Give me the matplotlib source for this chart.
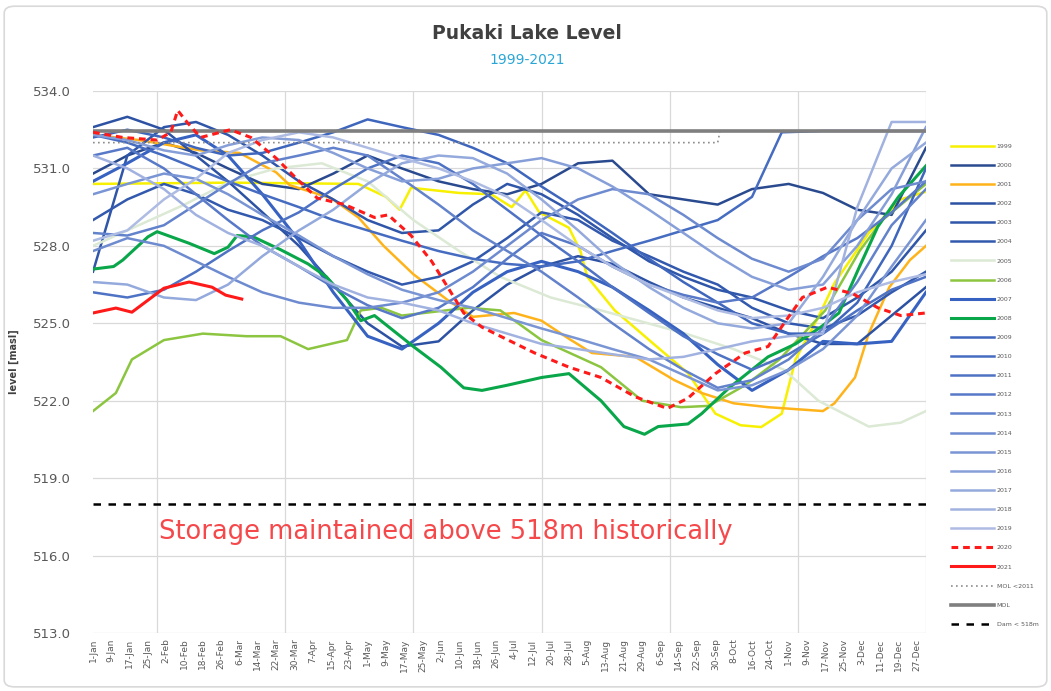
import matplotlib.pyplot as plt
from matplotlib.patches import FancyBboxPatch

# day-of-year grid used for most years
days = [0, 15, 31, 45, 59, 74, 90, 105, 120, 135, 151, 166, 181, 196, 212,
        227, 243, 258, 273, 288, 304, 319, 334, 349, 364]

y2000 = [530.8, 531.5, 532.0, 531.6, 531.0, 530.4, 530.2, 530.8, 531.5, 531.0, 530.5, 530.2, 530.0,
         530.4, 531.2, 531.3, 530.0, 529.8, 529.6, 530.2, 530.4, 530.05, 529.4, 529.2, 531.8]
y2002 = [532.6, 533.0, 532.5, 531.5, 530.5, 529.3, 528.0, 526.5, 525.0, 524.1, 524.3, 525.5, 526.5,
         527.2, 527.6, 527.3, 526.6, 526.0, 525.6, 525.2, 524.6, 524.2, 524.2, 525.3, 526.4]
y2003 = [527.0, 531.5, 532.6, 532.8, 532.3, 531.5, 530.5, 529.8, 529.0, 528.5, 528.6, 529.6, 530.4,
         530.0, 529.2, 528.3, 527.4, 526.8, 526.3, 526.0, 525.5, 525.2, 526.0, 527.0, 528.6]
y2004 = [529.0, 529.8, 530.4, 530.0, 529.4, 529.0, 528.3, 527.6, 527.0, 526.5, 526.8, 527.4, 528.3,
         529.3, 529.0, 528.2, 527.6, 527.0, 526.5, 525.6, 525.0, 524.8, 525.3, 526.2, 527.0]
y2007 = [530.5, 531.2, 532.0, 532.3, 531.5, 530.0, 528.2, 526.2, 524.5, 524.0, 525.0, 526.2, 527.0,
         527.4, 527.0, 526.4, 525.5, 524.6, 523.4, 522.4, 523.2, 524.3, 524.2, 524.3, 526.2]
y2009 = [532.2, 532.5, 532.2, 531.8, 531.5, 531.6, 532.0, 532.4, 532.9, 532.6, 532.3, 531.8, 531.2,
         530.3, 529.4, 528.5, 527.5, 526.6, 525.8, 525.0, 524.6, 524.6, 525.8, 528.0, 531.0]
y2011 = [526.2, 526.0, 526.3, 527.0, 527.8, 528.6, 529.3, 530.2, 531.0, 531.5, 531.2, 530.4, 529.4,
         528.4, 527.4, 526.4, 525.4, 524.5, 523.8, 523.2, 523.8, 524.6, 525.5, 526.3, 526.8]
y2012 = [531.5, 531.8, 531.0, 530.0, 529.0, 528.0, 527.2, 526.4, 525.7, 525.2, 525.6, 526.4, 527.5,
         528.5, 528.0, 527.2, 526.5, 526.1, 525.8, 526.0, 526.8, 527.6, 528.3, 529.3, 530.5]
y2013 = [528.5, 528.4, 528.8, 529.6, 530.4, 531.2, 531.5, 531.8, 531.5, 530.6, 529.6, 528.6, 527.8,
         527.0, 526.0, 525.0, 524.0, 523.2, 522.5, 522.8, 523.6, 524.8, 526.6, 528.8, 530.2]
y2014 = [527.8, 528.3, 528.0, 527.4, 526.8, 526.2, 525.8, 525.6, 525.6, 525.8, 526.2, 527.0, 528.0,
         529.0, 529.8, 530.2, 530.0, 529.2, 528.3, 527.5, 527.0, 527.5, 529.0, 530.2, 530.5]
y2015 = [530.0, 530.4, 530.8, 530.6, 530.0, 529.2, 528.4, 527.6, 526.9, 526.3, 525.9, 525.6, 525.2,
         524.8, 524.4, 524.0, 523.6, 523.0, 522.4, 522.6, 523.2, 524.0, 525.3, 527.2, 529.0]
y2016 = [532.3, 532.1, 531.7, 531.5, 531.9, 532.2, 532.1, 531.6, 531.0, 530.5, 530.6, 531.0, 531.2,
         531.4, 531.0, 530.3, 529.4, 528.5, 527.6, 526.8, 526.3, 526.5, 528.0, 530.0, 532.6]
y2017 = [526.6, 526.5, 526.0, 525.9, 526.5, 527.6, 528.6, 529.4, 530.4, 531.2, 531.5, 531.4, 530.8,
         529.8, 528.6, 527.4, 526.4, 525.6, 525.0, 524.8, 525.0, 526.8, 529.0, 531.0, 532.0]
y2018 = [531.5, 531.0, 530.2, 529.2, 528.5, 528.0, 527.2, 526.5, 526.0, 525.8, 525.5, 525.0, 524.6,
         524.2, 524.0, 523.8, 523.6, 523.7, 524.0, 524.3, 524.5, 524.6, 529.5, 532.8, 532.8]
y2019 = [528.2, 528.6, 529.8, 530.6, 531.6, 532.1, 532.4, 532.2, 531.8, 531.4, 531.0, 530.5, 529.9,
         529.0, 528.0, 527.2, 526.5, 526.0, 525.5, 525.2, 525.3, 525.6, 526.2, 526.6, 526.9]

d2010 = [0, 15, 31, 45, 59, 74, 90, 105, 120, 135, 151, 166, 181, 196, 212, 227, 243, 258, 273, 288,
         301, 319, 334, 349, 364]
y2010 = [532.3, 532.0, 531.5, 531.0, 530.5, 530.0, 529.5, 529.0, 528.6, 528.2, 527.8, 527.5, 527.3,
         527.2, 527.4, 527.8, 528.2, 528.6, 529.0, 529.9, 532.4, 532.45, 532.45, 532.45, 532.45]

# years with their own day lists
d1999 = [0, 60, 116, 128, 134, 139, 160, 174, 183, 189, 195, 208, 213, 216, 228, 245, 260, 272, 283,
         292, 301, 307, 317, 324, 339, 353, 364]
y1999 = [530.4, 530.45, 530.4, 529.9, 529.4, 530.25, 530.05, 530.0, 529.5, 530.15, 529.3, 528.7, 527.8,
         526.8, 525.5, 524.2, 523.07, 521.5, 521.05, 520.98, 521.5, 523.6, 525.25, 526.55, 528.5, 529.8, 530.1]
d2001 = [0, 20, 47, 64, 80, 86, 104, 116, 127, 140, 155, 166, 184, 196, 208, 218, 237, 254, 266, 280,
         295, 319, 324, 333, 339, 348, 357, 364]
y2001 = [532.3, 532.1, 531.7, 531.6, 530.85, 530.35, 529.85, 529.1, 528.0, 526.9, 525.9, 525.25, 525.4,
         525.1, 524.4, 523.85, 523.7, 522.8, 522.3, 521.9, 521.75, 521.6, 521.9, 522.9, 524.6, 526.4, 527.45, 528.0]
d2005 = [0, 20, 40, 60, 80, 100, 120, 140, 160, 178, 200, 222, 259, 280, 302, 317, 339, 353, 364]
y2005 = [528.0, 528.8, 529.6, 530.5, 531.0, 531.2, 530.5, 529.0, 527.8, 526.8, 526.0, 525.5, 524.6,
         524.0, 523.2, 522.0, 521.0, 521.15, 521.6]
d2006 = [0, 10, 17, 31, 48, 67, 82, 94, 111, 117, 126, 135, 164, 178, 196, 222, 240, 257, 269, 285,
         300, 320, 335, 345, 364]
y2006 = [521.6, 522.3, 523.6, 524.35, 524.6, 524.5, 524.5, 524.0, 524.35, 525.5, 525.6, 525.3, 525.6,
         525.5, 524.35, 523.3, 522.0, 521.75, 521.8, 522.6, 523.6, 525.5, 527.8, 529.0, 530.4]
d2008 = [0, 9, 13, 24, 28, 42, 53, 59, 63, 70, 82, 94, 102, 111, 117, 123, 140, 152, 162, 170, 181,
         196, 208, 222, 232, 241, 247, 260, 266, 278, 295, 307, 318, 326, 335, 343, 352, 364]
y2008 = [527.1, 527.2, 527.45, 528.35, 528.55, 528.1, 527.7, 527.95, 528.4, 528.35, 527.85, 527.3, 526.8,
         525.9, 525.1, 525.3, 524.1, 523.3, 522.5, 522.4, 522.6, 522.9, 523.05, 522.0, 521.0, 520.7, 521.0,
         521.1, 521.5, 522.5, 523.7, 524.2, 524.85, 525.4, 527.2, 528.75, 529.9, 531.1]
d2020 = [0, 13, 28, 34, 37, 41, 47, 60, 69, 80, 89, 98, 110, 123, 129, 139, 148, 155, 162, 170, 178,
         193, 208, 222, 237, 251, 260, 272, 285, 295, 302, 310, 321, 332, 343, 353, 364]
y2020 = [532.4, 532.2, 532.1, 532.4, 533.25, 532.8, 532.2, 532.5, 532.2, 531.4, 530.6, 529.85, 529.6,
         529.1, 529.2, 528.4, 527.4, 526.4, 525.4, 524.85, 524.5, 523.85, 523.3, 522.9, 522.15, 521.7,
         522.1, 523.05, 523.85, 524.1, 525.0, 526.0, 526.4, 526.15, 525.6, 525.3, 525.4]
d2021 = [0, 10, 17, 31, 42, 52, 58, 65]
y2021 = [525.4, 525.59, 525.43, 526.36, 526.6, 526.4, 526.09, 525.94]

mol_days = [0, 364]
mol = [532.45, 532.45]
mol_old_days = [0, 273, 274, 364]
mol_old = [532.0, 532.0, 532.45, 532.45]
dam = [518.0, 518.0]

tick_days = list(range(0, 361, 8))
tick_labels = ["1-Jan", "9-Jan", "17-Jan", "25-Jan", "2-Feb", "10-Feb", "18-Feb", "26-Feb",
               "6-Mar", "14-Mar", "22-Mar", "30-Mar", "7-Apr", "15-Apr", "23-Apr", "1-May",
               "9-May", "17-May", "25-May", "2-Jun", "10-Jun", "18-Jun", "26-Jun", "4-Jul",
               "12-Jul", "20-Jul", "28-Jul", "5-Aug", "13-Aug", "21-Aug", "29-Aug", "6-Sep",
               "14-Sep", "22-Sep", "30-Sep", "8-Oct", "16-Oct", "24-Oct", "1-Nov", "9-Nov",
               "17-Nov", "25-Nov", "3-Dec", "11-Dec", "19-Dec", "27-Dec"]

fig = plt.figure(figsize=(10.51, 6.91), dpi=100)
ax = fig.add_axes([0.0885, 0.0839, 0.7925, 0.7844])

fig.patches.append(FancyBboxPatch((0.004, 0.006), 0.992, 0.985, boxstyle="round,pad=0,rounding_size=0.01",
                                  transform=fig.transFigure, fc="white", ec="#d9d9d9", lw=1.2, zorder=-10))

lw = 1.8
ax.plot(d1999, y1999, color="#f7f000", lw=lw, label="1999")
ax.plot(days, y2000, color="#2a4a8f", lw=lw, label="2000")
ax.plot(d2001, y2001, color="#ffb31a", lw=lw, label="2001")
ax.plot(days, y2002, color="#2d52a3", lw=lw, label="2002")
ax.plot(days, y2003, color="#2f56a8", lw=lw, label="2003")
ax.plot(days, y2004, color="#3259ad", lw=lw, label="2004")
ax.plot(d2005, y2005, color="#dbe9d5", lw=lw, label="2005")
ax.plot(d2006, y2006, color="#8cc540", lw=lw, label="2006")
ax.plot(days, y2007, color="#3762c1", lw=2.2, label="2007")
ax.plot(d2008, y2008, color="#0aa64a", lw=2.2, label="2008")
ax.plot(days, y2009, color="#3f66bd", lw=lw, label="2009")
ax.plot(d2010, y2010, color="#466cc1", lw=lw, label="2010")
ax.plot(days, y2011, color="#4e72c4", lw=lw, label="2011")
ax.plot(days, y2012, color="#5879c8", lw=lw, label="2012")
ax.plot(days, y2013, color="#6382cc", lw=lw, label="2013")
ax.plot(days, y2014, color="#6e8bd0", lw=lw, label="2014")
ax.plot(days, y2015, color="#7a95d4", lw=lw, label="2015")
ax.plot(days, y2016, color="#879fd8", lw=lw, label="2016")
ax.plot(days, y2017, color="#94a9dc", lw=lw, label="2017")
ax.plot(days, y2018, color="#a1b2e0", lw=lw, label="2018")
ax.plot(days, y2019, color="#aebce4", lw=lw, label="2019")
ax.plot(d2020, y2020, color="#ff1a1a", lw=2.2, ls=(0, (2.2, 1.6)), label="2020", zorder=5)
ax.plot(d2021, y2021, color="#ff1a1a", lw=2.2, label="2021", zorder=5)
ax.plot(mol_old_days, mol_old, color="#8c8c8c", lw=1.2, ls=(0, (1, 2)), label="MOL <2011", zorder=4)
ax.plot(mol_days, mol, color="#7f7f7f", lw=2.6, label="MOL", zorder=4)
ax.plot(mol_days, dam, color="black", lw=1.8, ls=(0, (3, 3)), label="Dam < 518m", zorder=4)

ax.text(29, 516.9, "Storage maintained above 518m historically", color="#f5484b",
        fontsize=18.5, ha="left", va="center")

ax.set_xlim(0, 364)
ax.set_ylim(513, 534)
ax.set_yticks(range(513, 535, 3))
ax.set_yticklabels([f"{v:.1f}" for v in range(513, 535, 3)], fontsize=9.5, color="#595959")
ax.set_xticks(tick_days)
ax.set_xticklabels(tick_labels, rotation=90, fontsize=6.5, color="#595959")
ax.set_xticks(range(0, 365, 28), minor=True)
ax.tick_params(axis="both", which="both", length=0)
ax.tick_params(axis="y", pad=16)
ax.tick_params(axis="x", pad=4)
ax.grid(False)
ax.grid(True, which="minor", axis="x", color="#d9d9d9", lw=0.9)
ax.grid(True, which="major", axis="y", color="#d9d9d9", lw=0.9)
ax.set_axisbelow(True)
for s in ax.spines.values():
    s.set_visible(False)

ax.set_ylabel("level [masl]", fontsize=7, fontweight="bold", color="#404040", labelpad=10)

fig.text(0.5015, 0.951, "Pukaki Lake Level", ha="center", va="center", fontsize=13.5,
         fontweight="bold", color="#404040")
fig.text(0.5015, 0.913, "1999-2021", ha="center", va="center", fontsize=10, color="#2aa6d6")

leg = fig.legend(loc="upper left", bbox_to_anchor=(0.902, 0.796), fontsize=4.5, frameon=False,
                 handlelength=7, labelspacing=2.2, handletextpad=0.4, borderaxespad=0)
for t in leg.get_texts():
    t.set_color("#595959")

fig.savefig("out.png", dpi=100)
